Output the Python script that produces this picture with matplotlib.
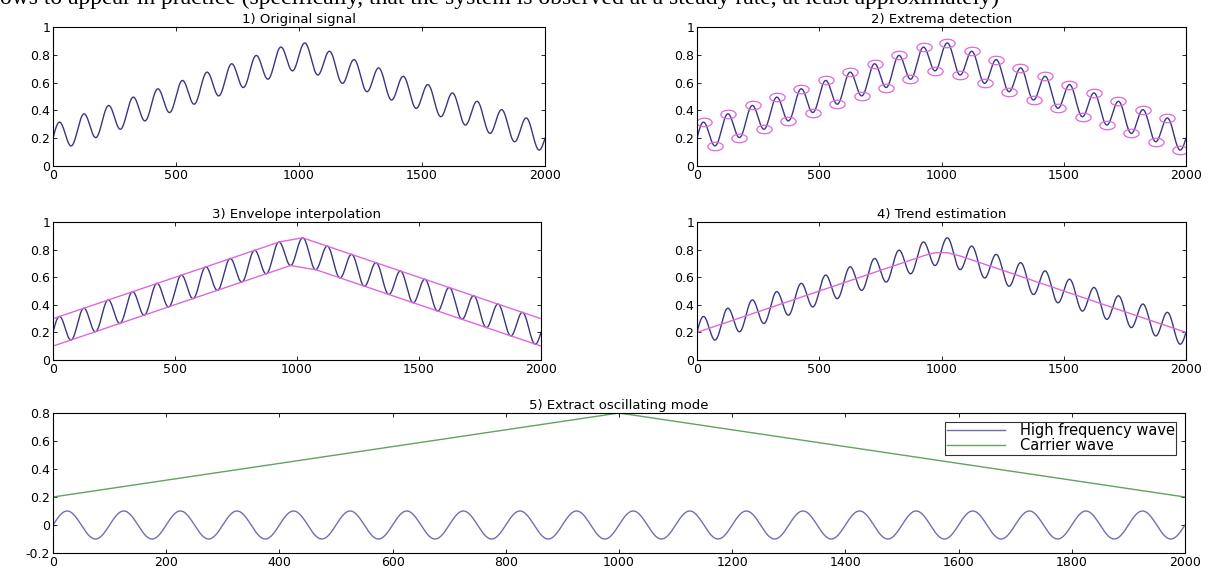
import numpy as np
import matplotlib
matplotlib.use('Agg')
import matplotlib.pyplot as plt
from matplotlib.path import Path
from matplotlib.transforms import Affine2D

carrier_x = [0, 1000, 2000]
carrier_y = [0.2, 0.8, 0.2]

wave_amp = 0.1
wave_period = 100
x_end = 2000

titles = ['1) Original signal', '2) Extrema detection', '3) Envelope interpolation',
          '4) Trend estimation', '5) Extract oscillating mode']
legend_labels = ['High frequency wave', 'Carrier wave']
top_ticks = [0, 500, 1000, 1500, 2000]
top_yticks = [0, 0.2, 0.4, 0.6, 0.8, 1]
bottom_ticks = [0, 200, 400, 600, 800, 1000, 1200, 1400, 1600, 1800, 2000]
bottom_yticks = [-0.2, 0, 0.2, 0.4, 0.6, 0.8]

header = 'ows to appear in practice (specifically, that the system is observed at a steady rate, at least approximately)'

sig_col = '#383880'
env_col = '#e066e0'
hf_col = '#7070b0'
car_col = '#62a262'

plt.rcParams['font.family'] = ['DejaVu Sans']
plt.rcParams['font.size'] = 9

x = np.arange(0, x_end + 1)
carrier = np.interp(x, carrier_x, carrier_y)
hf = wave_amp * np.sin(2 * np.pi * x / wave_period)
signal = carrier + hf

d = np.diff(signal)
imax = np.where((d[:-1] > 0) & (d[1:] <= 0))[0] + 1
imin = np.where((d[:-1] < 0) & (d[1:] >= 0))[0] + 1


def envelope(idx):
    """linear interpolation through extrema, extrapolated at both ends"""
    ex = x[idx].astype(float)
    ey = signal[idx]
    y0 = ey[0] - (ey[1] - ey[0]) / (ex[1] - ex[0]) * ex[0]
    y1 = ey[-1] + (ey[-1] - ey[-2]) / (ex[-1] - ex[-2]) * (x_end - ex[-1])
    return np.interp(x, np.r_[0, ex, x_end], np.r_[y0, ey, y1])


upper = envelope(imax)
lower = envelope(imin)
trend = (upper + lower) / 2

ellipse = Path.unit_circle().transformed(Affine2D().scale(1.8, 1.0))

fig = plt.figure(figsize=(12.09, 5.68), dpi=100)
fig.text(0.0, 1.0 - 4.0 / 568, header, family='Liberation Serif', fontsize=17,
         va='baseline', ha='left')

L1, W1 = 53 / 1209, 492 / 1209
L2, W2 = 697 / 1209, 489 / 1209
pos = [
    [L1, 1 - 166 / 568, W1, 139 / 568],
    [L2, 1 - 166 / 568, W2, 139 / 568],
    [L1, 1 - 360 / 568, 488 / 1209, 138 / 568],
    [L2, 1 - 360 / 568, W2, 138 / 568],
    [L1, 1 - 553 / 568, 1132 / 1209, 140 / 568],
]
axes = [fig.add_axes(p) for p in pos]


def style(ax, xt, yt, ylim):
    ax.set_xlim(0, x_end)
    ax.set_ylim(*ylim)
    ax.set_xticks(xt)
    ax.set_yticks(yt)
    ax.set_yticklabels(['%g' % v for v in yt])
    ax.tick_params(direction='in', top=True, right=True, length=3, width=0.6,
                   pad=2, labelsize=9)
    for s in ax.spines.values():
        s.set_linewidth(0.8)


ax = axes[0]
ax.plot(x, signal, color=sig_col, lw=1.0)

ax = axes[1]
ax.plot(x, signal, color=sig_col, lw=1.0)
ax.plot(x[imax], signal[imax], ls='none', marker=ellipse, ms=11, mfc='none',
        mec=env_col, mew=0.9)
ax.plot(x[imin], signal[imin], ls='none', marker=ellipse, ms=11, mfc='none',
        mec=env_col, mew=0.9)

ax = axes[2]
ax.plot(x, signal, color=sig_col, lw=1.0)
ax.plot(x, upper, color=env_col, lw=1.0)
ax.plot(x, lower, color=env_col, lw=1.0)

ax = axes[3]
ax.plot(x, signal, color=sig_col, lw=1.0)
ax.plot(x, trend, color=env_col, lw=1.0)

for i in range(4):
    style(axes[i], top_ticks, top_yticks, (0, 1))
    axes[i].set_title(titles[i], fontsize=9.5, pad=3)

ax = axes[4]
ax.plot(x, hf, color=hf_col, lw=1.0, label=legend_labels[0])
ax.plot(x, carrier, color=car_col, lw=1.0, label=legend_labels[1])
style(ax, bottom_ticks, bottom_yticks, (-0.2, 0.8))
ax.set_title(titles[4], fontsize=9.5, pad=3)
leg = ax.legend(loc='upper right', fontsize=10.5, frameon=True, fancybox=False,
                borderpad=0.1, labelspacing=0.0, handlelength=4.0,
                handletextpad=1.0, borderaxespad=0.6)
leg.get_frame().set_edgecolor('black')
leg.get_frame().set_linewidth(0.8)

fig.savefig('out.png', dpi=100)
